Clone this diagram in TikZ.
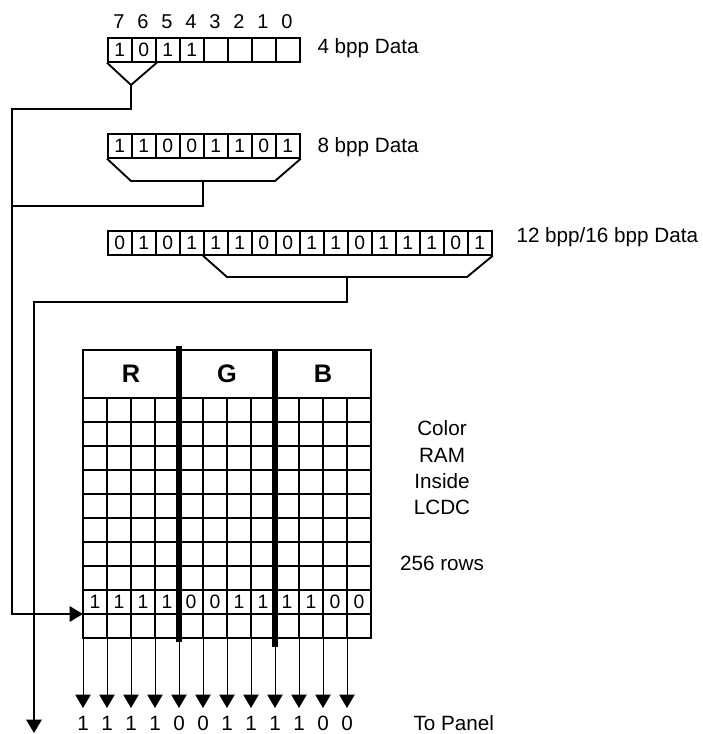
\documentclass[tikz,border=0pt]{standalone}
\usepackage{fontspec}
\setmainfont{Liberation Sans}
\usetikzlibrary{arrows.meta}

\tikzset{every picture/.style={line width=0.75pt}}

\begin{document}
\begin{tikzpicture}[x=0.75pt,y=0.75pt,yscale=-1,xscale=1,
    cell/.style={draw,line width=1.3,anchor=north west,inner sep=0pt,minimum width=18pt,minimum height=18pt,font=\fontsize{14.5}{16}\selectfont},
    wire/.style={line width=1.4},
    bus/.style={line width=1.4,-{Triangle[width=11.5pt,length=10pt]}},
    feed/.style={line width=0.75,-{Triangle[width=11.5pt,length=10pt]}},
    lbl/.style={inner sep=0.75pt,font=\fontsize{15.5}{18}\selectfont},
    head/.style={inner sep=0.75pt,font=\fontsize{19}{22}\selectfont\bfseries}]
    \useasboundingbox (0,0) rectangle (702,734);

    % Bit numbers
    \foreach \n [count=\i from 0] in {7,...,0}
        \node[lbl,font=\fontsize{15}{16}\selectfont] (n\i) at ({119+24*\i},22) {\n};
    % 4 bpp word
    \foreach \b [count=\i from 0] in {1,0,1,1,{},{},{},{}}
        \node[cell] (q\i) at ({107+24*\i},37) {\b};
    % Text Node
    \node[lbl,anchor=base west] (l4) at (316,54) {4 bpp Data};
    %Straight Lines
    \coordinate (f4) at (131,85);
    \draw[wire] (q0.south west) -- (f4) -- (q1.south east);

    % 8 bpp word
    \foreach \b [count=\i from 0] in {1,1,0,0,1,1,0,1}
        \node[cell] (e\i) at ({107+24*\i},133) {\b};
    % Text Node
    \node[lbl,anchor=base west] (l8) at (316,153) {8 bpp Data};
    %Straight Lines
    \coordinate (f8) at (203,181);
    \draw[wire] (e0.south west) -- (131,181) -- (275,181) -- (e7.south east);

    % 12/16 bpp word
    \foreach \b [count=\i from 0] in {0,1,0,1,1,1,0,0,1,1,0,1,1,1,0,1}
        \node[cell] (s\i) at ({107+24*\i},230) {\b};
    % Text Node
    \node[lbl,anchor=base west] (l16) at (515,243) {12 bpp/16 bpp Data};
    %Straight Lines
    \coordinate (f16) at (347,277);
    \draw[wire] (s4.south west) -- (227,277) -- (467,277) -- (s15.south east);

    % Color RAM
    \draw[line width=1.3] (83,350) rectangle (371,638);
    \draw[line width=1.3] (83,398) -- (371,398);
    \foreach \r in {1,...,9}
        \draw[line width=1.3] (83,{398+24*\r}) -- (371,{398+24*\r});
    \foreach \c in {1,2,3,5,6,7,9,10,11}
        \draw[line width=1.3] ({83+24*\c},398) -- ({83+24*\c},638);
    \draw[line width=4.5] (179,346) -- (179,642);
    \draw[line width=4.5] (275,349) -- (275,647);
    \node[head] (hr) at (131,374) {R};
    \node[head] (hg) at (227,374) {G};
    \node[head] (hb) at (323,374) {B};
    \foreach \b [count=\i from 0] in {1,1,1,1,0,0,1,1,1,1,0,0}
        \node[lbl,font=\fontsize{14.5}{16}\selectfont] (d\i) at ({95+24*\i},602) {\b};
    \coordinate (load) at (83,614);

    % Text Node
    \node[lbl,align=center,font=\fontsize{15.5}{19.7}\selectfont] (ram) at (442,468) {Color\\RAM\\Inside\\LCDC};
    \node[lbl] (rows) at (442,563) {256 rows};

    % Buses
    \coordinate (out) at (34,733);
    \draw[bus] (f4) -- (131,109) -| (12,614) -- (load);
    \draw[wire] (f8) |- (12,206);
    \draw[bus] (f16) |- (34,302) -- (out);

    % To panel
    \foreach \b [count=\i from 0] in {1,1,1,1,0,0,1,1,1,1,0,0} {
        \coordinate (t\i) at ({83+24*\i},708);
        \draw[feed] ({83+24*\i},638) -- (t\i);
        \node[lbl] (o\i) at ({83+24*\i},723) {\b};
    }
    \node[lbl,anchor=west] (panel) at (412,723) {To Panel};

\end{tikzpicture}
\end{document}
